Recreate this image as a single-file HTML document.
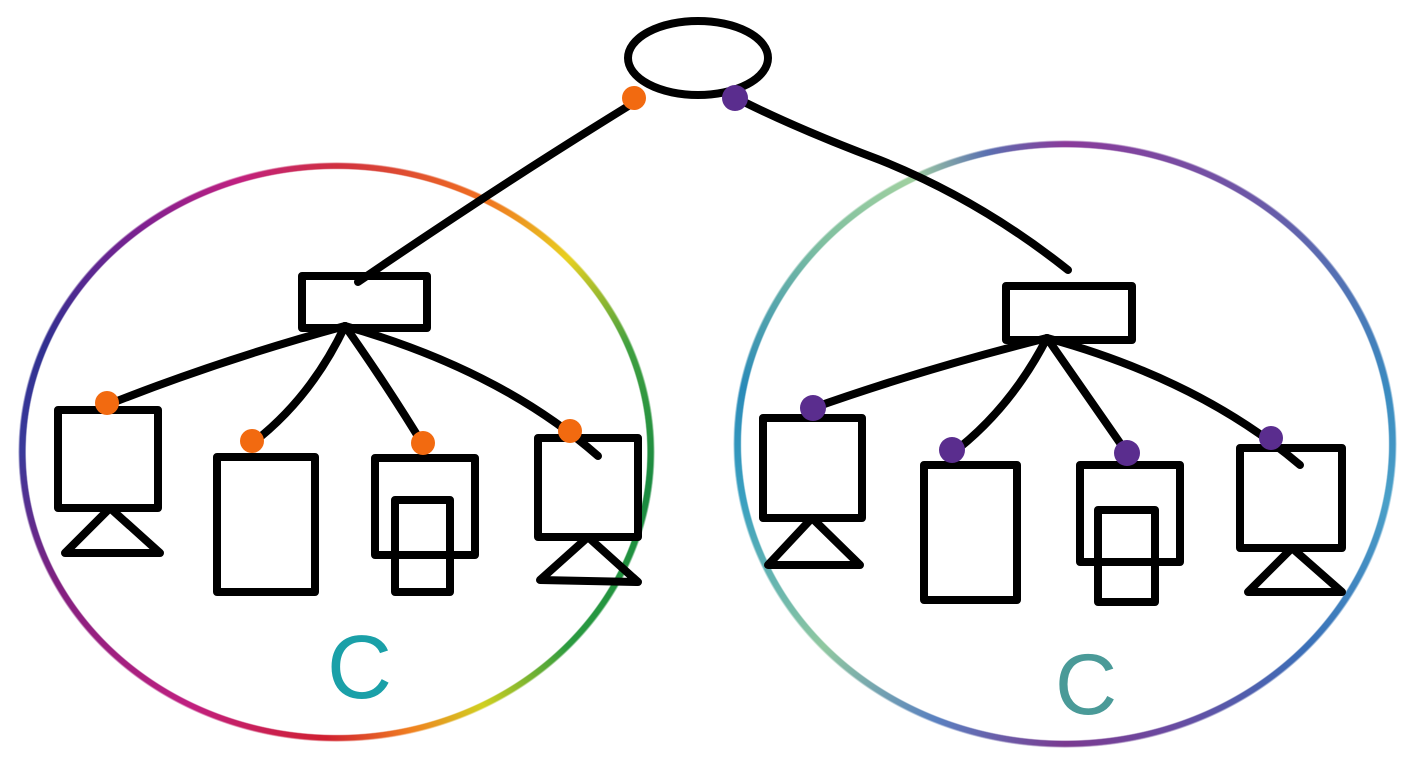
<!DOCTYPE html>
<html><head><meta charset="utf-8"><style>
html,body{margin:0;padding:0;background:#fff;width:1402px;height:770px;overflow:hidden;position:relative}
.ring{position:absolute;border-radius:50%;
-webkit-mask:radial-gradient(closest-side,transparent 97.4%,#000 97.8%,#000 99.4%,transparent 100%);
mask:radial-gradient(closest-side,transparent 97.4%,#000 97.8%,#000 99.4%,transparent 100%)}
#r1{left:18px;top:162px;width:637px;height:580px;
background:conic-gradient(#d03040 0deg,#f07020 30deg,#e8d020 50deg,#40a040 70deg,#1a8a40 95deg,#2a9a40 130deg,#d0d020 150deg,#f08020 165deg,#d02030 182deg,#c02080 210deg,#802080 245deg,#3a3a9a 270deg,#303090 290deg,#802090 320deg,#c02080 340deg,#d03040 360deg)}
#r2{left:733px;top:140px;width:664px;height:608px;
background:conic-gradient(#8a3a9a 0deg,#6a5aa8 40deg,#3a8ac0 80deg,#4aa0c8 100deg,#3a70b8 130deg,#6a4aa0 160deg,#7a3a90 180deg,#5a80c0 205deg,#90c8a0 230deg,#3aa0c0 260deg,#2a8ab8 280deg,#80c0a0 310deg,#a0d0a0 330deg,#5a70b0 345deg,#8a3a9a 360deg)}
svg{position:absolute;left:0;top:0}
</style></head><body>
<div class="ring" id="r1"></div>
<div class="ring" id="r2"></div>
<svg width="1402" height="770" viewBox="0 0 1402 770">
<g fill="none" stroke="#000" stroke-width="8" stroke-linecap="round" stroke-linejoin="round">
<ellipse cx="698" cy="58" rx="70" ry="37"/>
<path d="M630 105 Q500 185 358 282"/>
<path d="M740 100 Q800 130 880 160 Q980 200 1068 270"/>
<rect x="302" y="276" width="125" height="52"/>
<path d="M345 326 Q220 360 107 405"/>
<path d="M345 326 Q310 400 250 445"/>
<path d="M345 326 Q390 390 425 448"/>
<path d="M345 326 Q500 370 598 456"/>
<rect x="58" y="410" width="100" height="98"/>
<path d="M110 508 L65 553 L160 553 Z"/>
<rect x="217" y="457" width="98" height="135"/>
<rect x="375" y="458" width="100" height="97"/>
<rect x="395" y="500" width="55" height="92"/>
<rect x="538" y="438" width="100" height="99"/>
<path d="M588 537 L540 580 L638 582 Z"/>
<rect x="1006" y="286" width="126" height="54"/>
<path d="M1047 338 Q920 370 813 408"/>
<path d="M1047 338 Q1010 410 950 455"/>
<path d="M1047 338 Q1090 400 1127 453"/>
<path d="M1047 338 Q1200 380 1300 465"/>
<rect x="763" y="418" width="99" height="100"/>
<path d="M812 518 L768 565 L860 565 Z"/>
<rect x="924" y="465" width="93" height="135"/>
<rect x="1080" y="465" width="100" height="97"/>
<rect x="1098" y="510" width="57" height="92"/>
<rect x="1240" y="448" width="102" height="100"/>
<path d="M1292 548 L1248 592 L1342 592 Z"/>
</g>
<g fill="#f26a10">
<circle cx="634" cy="98" r="12"/>
<circle cx="107" cy="403" r="12"/>
<circle cx="252" cy="441" r="12"/>
<circle cx="423" cy="443" r="12"/>
<circle cx="570" cy="431" r="12"/>
</g>
<g fill="#5a2d8e">
<circle cx="735" cy="98" r="13"/>
<circle cx="813" cy="408" r="13"/>
<circle cx="952" cy="450" r="13"/>
<circle cx="1127" cy="453" r="13"/>
<circle cx="1271" cy="438" r="12"/>
</g>
<text x="327" y="698" font-family="Liberation Sans, sans-serif" font-size="90" fill="#1aa0a8">C</text>
<text x="1055" y="714" font-family="Liberation Sans, sans-serif" font-size="86" fill="#4a9a98">C</text>
</svg>
</body></html>
